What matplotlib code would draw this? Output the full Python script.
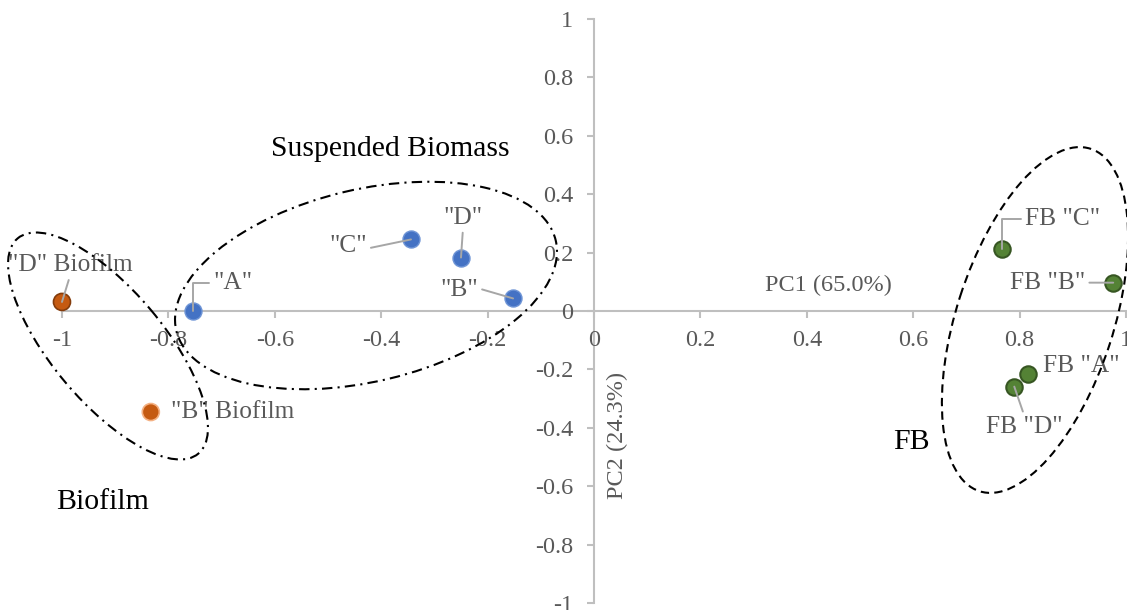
import matplotlib
matplotlib.use("Agg")
import matplotlib.pyplot as plt
from matplotlib.patches import Ellipse
from matplotlib.transforms import Affine2D
import numpy as np

# ---------------- data ----------------
biofilm_labels = ['"D" Biofilm', '"B" Biofilm']
biofilm_pc1 = [-1.0, -0.833]
biofilm_pc2 = [0.031, -0.346]

susp_labels = ['"A"', '"C"', '"D"', '"B"']
susp_pc1 = [-0.753, -0.344, -0.250, -0.152]
susp_pc2 = [0.000, 0.245, 0.183, 0.043]

fb_labels = ['FB "C"', 'FB "B"', 'FB "A"', 'FB "D"']
fb_pc1 = [0.767, 0.976, 0.815, 0.790]
fb_pc2 = [0.212, 0.097, -0.217, -0.259]

ticks = [-1, -0.8, -0.6, -0.4, -0.2, 0, 0.2, 0.4, 0.6, 0.8, 1]
x_title = "PC1 (65.0%)"
y_title = "PC2 (24.3%)"
group_names = ["Suspended Biomass", "Biofilm", "FB"]

# ---------------- style ----------------
plt.rcParams['font.family'] = ['Liberation Serif', 'DejaVu Serif']
W, H = 1127, 610
fig = plt.figure(figsize=(W / 100, H / 100), dpi=100)
ax = fig.add_axes([0, 0, 1, 1])
ax.set_xlim(-1.1165, 1.0019)
ax.set_ylim(-1.024, 1.065)

axis_gray = '#bfbfbf'
text_gray = '#595959'
leader_gray = '#a6a6a6'

for s in ['top', 'right']:
    ax.spines[s].set_visible(False)
for s in ['left', 'bottom']:
    ax.spines[s].set_position(('data', 0))
    ax.spines[s].set_color(axis_gray)
    ax.spines[s].set_linewidth(1.5)
    ax.spines[s].set_bounds(-1, 1)
    ax.spines[s].set_zorder(1)

def fmt(v):
    if abs(v) < 1e-9:
        return "0"
    if abs(abs(v) - 1) < 1e-9:
        return "%d" % round(v)
    return ("%.1f" % v)

ax.set_xticks(ticks)
ax.set_yticks(ticks)
ax.set_xticklabels([fmt(t) for t in ticks])
ax.set_yticklabels([fmt(t) for t in ticks])
ax.tick_params(axis='both', direction='out', length=5, width=1.5,
               color=axis_gray, labelcolor=text_gray, labelsize=17.5)
ax.tick_params(axis='x', pad=9)
ax.tick_params(axis='y', pad=10)
ax.set_facecolor('white')
fig.patch.set_facecolor('white')

# ---------------- points ----------------
ax.scatter(biofilm_pc1, biofilm_pc2, s=150, c='#C55A11',
           edgecolors=['#843C0C', '#F4B183'], linewidths=1.2, zorder=4)
ax.scatter(susp_pc1, susp_pc2, s=150, c='#4472C4',
           edgecolors='#6f95d6', linewidths=1.0, zorder=4)
ax.scatter(fb_pc1, fb_pc2, s=140, c='#548235',
           edgecolors='#375623', linewidths=1.5, zorder=4)

# ---------------- data labels ----------------
# (offset px, ha, leader relpos or None, connection style)
label_layout = {
    '"D" Biofilm': ((8, 37), 'center', (0.5, 0.0), 'arc3'),
    '"B" Biofilm': ((20, 0), 'left', None, None),
    '"A"': ((20, 28), 'left', (0.0, 0.5), 'angle,angleA=180,angleB=90,rad=0'),
    '"C"': ((-63, -7), 'center', (1.0, 0.4), 'arc3'),
    '"D"': ((2, 40), 'center', (0.5, 0.0), 'arc3'),
    '"B"': ((-54, 8), 'center', (1.0, 0.6), 'arc3'),
    'FB "C"': ((23, 30), 'left', (0.0, 0.5), 'angle,angleA=180,angleB=90,rad=0'),
    'FB "B"': ((-28, 0), 'right', (1.0, 0.5), 'arc3'),
    'FB "A"': ((15, 8), 'left', None, None),
    'FB "D"': ((10, -40), 'center', (0.5, 1.0), 'arc3'),
}

def label_points(labels, xs, ys):
    for lab, x, y in zip(labels, xs, ys):
        off, ha, rel, conn = label_layout[lab]
        kw = {}
        if rel is not None:
            kw['arrowprops'] = dict(arrowstyle='-', color=leader_gray, lw=1.4,
                                    shrinkA=1, shrinkB=0, relpos=rel,
                                    connectionstyle=conn)
        ax.annotate(lab, xy=(x, y), xytext=off, textcoords='offset pixels',
                    ha=ha, va='center', fontsize=18.3, color=text_gray,
                    zorder=5, **kw)

label_points(biofilm_labels, biofilm_pc1, biofilm_pc2)
label_points(susp_labels, susp_pc1, susp_pc2)
label_points(fb_labels, fb_pc1, fb_pc2)

# ---------------- axis titles ----------------
ax.text(0.44, 0.089, x_title, ha='center', va='center', fontsize=17.5,
        color=text_gray)
ax.text(0.045, -0.425, y_title, ha='center', va='center', fontsize=17.5,
        color=text_gray, rotation=90)

# ---------------- group annotations ----------------
ax.text(-0.3825, 0.555, group_names[0], ha='center', va='center',
        fontsize=21.3, color='black')
ax.text(-0.924, -0.654, group_names[1], ha='center', va='center',
        fontsize=21.5, color='black')
ax.text(0.597, -0.449, group_names[2], ha='center', va='center',
        fontsize=21.5, color='black')

# ellipses drawn in pixel space (origin top-left)
T = Affine2D().scale(1 / W, -1 / H).translate(0, 1) + fig.transFigure
dashdot = (0, (5, 2.5, 1, 2.5))
dashed = (0, (4, 2.5))
ellipses = [
    dict(xy=(108, 346), width=281, height=112, angle=50, ls=dashdot),
    dict(xy=(366, 285.5), width=390, height=192, angle=-13.4, ls=dashdot),
    dict(xy=(1035, 320), width=360, height=157, angle=-72, ls=dashed),
]
for e in ellipses:
    ax.add_patch(Ellipse(e['xy'], e['width'], e['height'], angle=e['angle'],
                         transform=T, fill=False, edgecolor='black',
                         linewidth=1.5, linestyle=e['ls'], zorder=6,
                         clip_on=False))

fig.savefig("out.png", dpi=100, facecolor='white')
